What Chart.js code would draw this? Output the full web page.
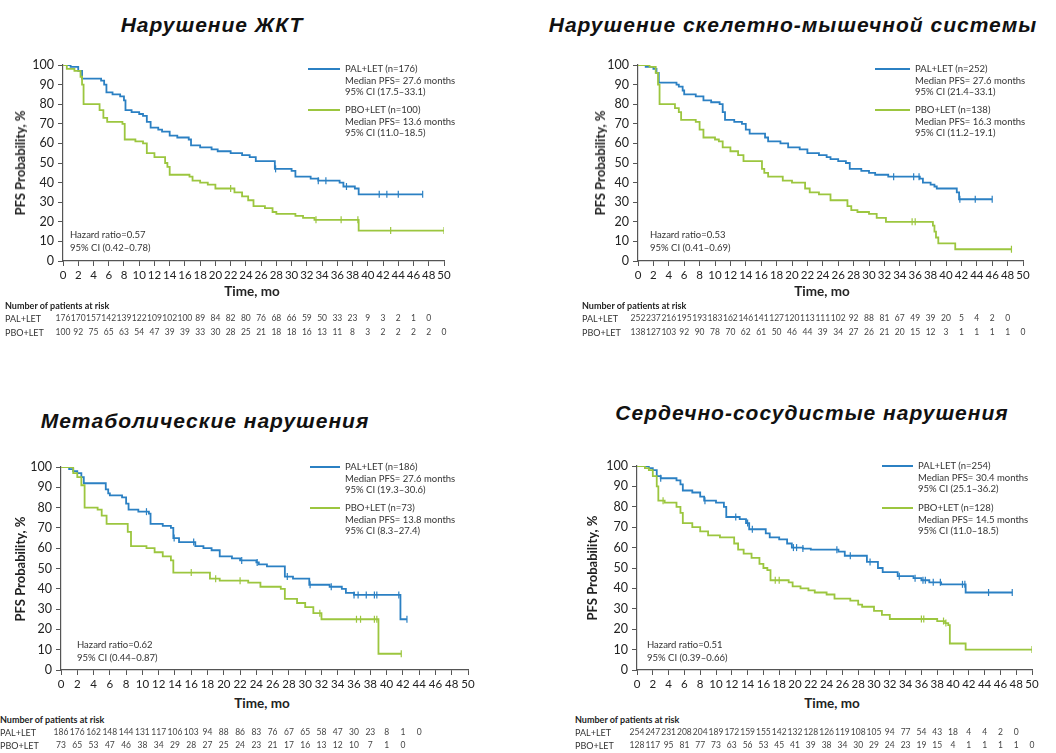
<!DOCTYPE html>
<html><head><meta charset="utf-8">
<script src="https://cdn.jsdelivr.net/npm/chart.js@4.4.1/dist/chart.umd.min.js"></script>
<style>
body{margin:0;width:1056px;height:753px;background:#fff;position:relative;overflow:hidden;font-family:Lato,'Noto Sans',sans-serif;color:#222}
.abs{position:absolute;white-space:nowrap}
.title{font-family:'Liberation Sans',Arial,sans-serif;font-weight:bold;font-style:italic;font-size:21px;letter-spacing:1px;color:#111;transform:translateX(-50%)}
.ytitle{font-weight:bold;font-size:13px;transform:translate(-50%,-50%) rotate(-90deg)}
.xtitle{font-weight:bold;font-size:13.5px;transform:translate(-50%,-50%)}
.leg{font-size:9.5px;line-height:11.5px;color:#333}
.hr{font-size:9.5px;line-height:13px;color:#333}
.rh{font-size:9px;font-weight:bold;color:#222;transform:translateY(-50%)}
.rl{font-size:9px;color:#333;transform:translateY(-50%)}
.rn{font-size:8.5px;color:#444;transform:translate(-50%,-50%)}
canvas{position:absolute}
</style></head><body>
<script>
// ---------------- DATA ----------------
const titles = ["Нарушение ЖКТ","Нарушение скелетно-мышечной системы","Метаболические нарушения","Сердечно-сосудистые нарушения"];
const seriesNames = ["PAL+LET","PBO+LET"];
const xTicks = [0,2,4,6,8,10,12,14,16,18,20,22,24,26,28,30,32,34,36,38,40,42,44,46,48,50];
const yTicks = [0,10,20,30,40,50,60,70,80,90,100];

// Panel 1: ЖКТ
const p1PalT = [0,1,2,2.5,5,5.4,5.7,6.5,7.5,8,8.2,9,10,10.5,11,11.5,12.5,13,14,15,16.5,16.8,18,19.5,20.3,22,23.5,24.5,25.3,27.8,30,30.5,32.5,33.5,36.3,36.8,38.3,38.8,47.2];
const p1PalS = [100,99,97,93,92,90,86,85,84,82,77,76,75,74,71,68,67,66,64,63,62,59,58,57,56,55,54,53,51,47,46,43,42,41,40,38,37,34,34];
const p1PboT = [0,0.5,1.5,2.3,2.5,2.7,4.8,5.3,5.8,7.8,8.1,9.5,10.5,11,12,13.4,13.7,14,16.6,17,18,19,20,22.5,23.5,24.3,25,26.5,27.5,28,30.5,31.5,33,38.8,50];
const p1PboS = [100,98,97,94,90,80,77,73,71,70,62,61,60,55,53,50,48,44,43,41,40,39,37,35,33,31,28,27,25,24,23,22,21,15.5,15.5];
const p1PalCens = [27.9,33.5,34.5,37.2,41.5,42.5,44,47.2];
const p1PboCens = [22,33.2,36.5,38.7,43,50];
const p1PalRisk = [176,170,157,142,139,122,109,102,100,89,84,82,80,76,68,66,59,50,33,23,9,3,2,1,0];
const p1PboRisk = [100,92,75,65,63,54,47,39,39,33,30,28,25,21,18,18,16,13,11,8,3,2,2,2,2,0];
const p1Legend = [["PAL+LET (n=176)","Median PFS= 27.6 months","95% CI (17.5–33.1)"],["PBO+LET (n=100)","Median PFS= 13.6 months","95% CI (11.0–18.5)"]];
const p1HR = ["Hazard ratio=0.57","95% CI (0.42–0.78)"];

// Panel 2: скелетно-мышечной
const p2PalT = [0,1,2,2.4,2.7,5,5.3,5.8,6,7.5,8.5,9.5,10.6,11,11.3,12.5,13.5,14,14.5,16.5,16.9,18.5,19.5,21,22,23.5,24.5,25,26,27,27.5,29,30,30.8,32.5,36.6,37,38,38.5,38.8,41.4,41.7,46];
const p2PalS = [100,99,98,96,91,90,89,87,85,84,82,81,80,76,72,71,70,67,65,63,61,60,58,57,55,54,53,52,51,50,47,46,45,44,43,42,40,39,38,37,35,31.5,31.5];
const p2PboT = [0,1.5,2.3,2.6,2.8,4.8,5.3,5.6,7.5,8,8.5,10,10.5,11,12,13,13.7,16.1,16.4,16.9,18.8,20,21.7,22.3,23.5,25,27.2,27.7,28.5,30,31,32.2,38.3,38.5,38.7,39,41.2,48.5];
const p2PboS = [100,99,96,90,80,78,76,72,71,67,63,62,61,58,56,54,51,47,45,43,41,40,37,35,34,31,28,26,25,24,22,20,18,15,12,9,6,6];
const p2PalCens = [33.2,35.8,36.5,41.8,43.8,46];
const p2PboCens = [35.6,36,48.5];
const p2PalRisk = [252,237,216,195,193,183,162,146,141,127,120,113,111,102,92,88,81,67,49,39,20,5,4,2,0];
const p2PboRisk = [138,127,103,92,90,78,70,62,61,50,46,44,39,34,27,26,21,20,15,12,3,1,1,1,1,0];
const p2Legend = [["PAL+LET (n=252)","Median PFS= 27.6 months","95% CI (21.4–33.1)"],["PBO+LET (n=138)","Median PFS= 16.3 months","95% CI (11.2–19.1)"]];
const p2HR = ["Hazard ratio=0.53","95% CI (0.41–0.69)"];

// Panel 3: метаболические
const p3PalT = [0,1,1.5,2,2.5,2.8,5.5,5.8,6,7.5,8,8.3,9.5,10.8,11,12.5,13.5,13.8,14.5,16.5,17.5,18.5,19.5,21,22,24,24.3,25.3,27.5,28.5,30.5,33,34.5,35,36,41.7,42.5];
const p3PalS = [100,99,98,97,95,92,89,87,86,85,82,79,78,77,72,71,70,65,63,61,60,59,56,55,54,53,52,51,46,45,42,41,40,38,37,25,25];
const p3PboT = [0,1.5,2,2.5,2.9,4.5,5,5.6,8.2,8.6,10.5,11.5,12.5,13.5,13.8,18.3,19.5,23,24.5,27,27.5,29,30,31,32,39,41.8];
const p3PboS = [100,97,95,91,80,79,76,72,68,61,60,58,56,54,48,45,44,43,41,40,35,33,31,28,25,8,8];
const p3PalCens = [10.5,13.9,16.3,22.2,24.1,27.8,30.6,33.2,36,36.5,37.5,38.5,38.8,41.5,42.5];
const p3PboCens = [16,19,22,31.8,36.3,36.8,38.5,38.8,41.8];
const p3PalRisk = [186,176,162,148,144,131,117,106,103,94,88,86,83,76,67,65,58,47,30,23,8,1,0];
const p3PboRisk = [73,65,53,47,46,38,34,29,28,27,25,24,23,21,17,16,13,12,10,7,1,0];
const p3Legend = [["PAL+LET (n=186)","Median PFS= 27.6 months","95% CI (19.3–30.6)"],["PBO+LET (n=73)","Median PFS= 13.8 months","95% CI (8.3–27.4)"]];
const p3HR = ["Hazard ratio=0.62","95% CI (0.44–0.87)"];

// Panel 4: сердечно-сосудистые
const p4PalT = [0,1.5,2,2.5,3,5,5.5,5.8,7,8,8.5,10,11,11.3,13,13.8,14.2,16.3,16.8,18,19,19.6,21,22,25.5,26.3,29.1,30.5,31.1,33,35,36,37,38.5,41.6,47.5];
const p4PalS = [100,99,98,95,94,93,91,88,87,85,83,82,80,75,74,72,69,67,65,64,62,60,59.5,59,58,56,53,50,48,46,45,44,43,42,38,38];
const p4PboT = [0,1,1.5,2,2.5,2.7,3.5,5,5.5,5.8,7,8,9,10.5,12.3,12.8,13.5,14.5,15.5,16,16.5,16.9,19.2,19.7,20.7,21.7,22.5,24,25,27,28,28.5,30,31,32,36.5,38,39,39.4,39.6,41.6,50];
const p4PboS = [100,99,98,95,90,83,82,80,77,72,70,68,66,65,62,59,57,55,52,50,49,44,43,41,40,39,38,37,35,34,32,31,29,27,25,25,24,23,22,13,10,10];
const p4PalCens = [3,8.6,12.5,14,14.6,19.8,20.2,21,25.3,27,29.5,33.2,35.2,36.2,36.5,37.5,38.4,41.2,41.5,44.5,47.5];
const p4PboCens = [3.3,17.5,18,36,36.3,38.8,39.1,50];
const p4PalRisk = [254,247,231,208,204,189,172,159,155,142,132,128,126,119,108,105,94,77,54,43,18,4,4,2,0];
const p4PboRisk = [128,117,95,81,77,73,63,56,53,45,41,39,38,34,30,29,24,23,19,15,4,1,1,1,1,0];
const p4Legend = [["PAL+LET (n=254)","Median PFS= 30.4 months","95% CI (25.1–36.2)"],["PBO+LET (n=128)","Median PFS= 14.5 months","95% CI (11.0–18.5)"]];
const p4HR = ["Hazard ratio=0.51","95% CI (0.39–0.66)"];

// ---------------- STYLE / LAYOUT ----------------
const BLUE = '#2b80c3';
const GREEN = '#9cc63f';
const AXIS = '#555';

const panels = [
  {title:titles[0], palT:p1PalT, palS:p1PalS, pboT:p1PboT, pboS:p1PboS, palC:p1PalCens, pboC:p1PboCens, palR:p1PalRisk, pboR:p1PboRisk, legend:p1Legend, hr:p1HR,
   L:{cl:0, ct:45, cw:520, ch:240, aL:63, aR:444, aT:65, aB:261, tX:212, tY:13, yX:20, xX:252, xY:291, lgL:308, lgT:345, lgY:[69,110], hrX:70, hrY:228, rX:5, rY:[305,318,332]}},
  {title:titles[1], palT:p2PalT, palS:p2PalS, pboT:p2PboT, pboS:p2PboS, palC:p2PalCens, pboC:p2PboCens, palR:p2PalRisk, pboR:p2PboRisk, legend:p2Legend, hr:p2HR,
   L:{cl:520, ct:45, cw:536, ch:240, aL:638, aR:1023, aT:65, aB:261, tX:793, tY:13, yX:600, xX:822, xY:291, lgL:875, lgT:915, lgY:[69,110], hrX:650, hrY:228, rX:582, rY:[305,318,332]}},
  {title:titles[2], palT:p3PalT, palS:p3PalS, pboT:p3PboT, pboS:p3PboS, palC:p3PalCens, pboC:p3PboCens, palR:p3PalRisk, pboR:p3PboRisk, legend:p3Legend, hr:p3HR,
   L:{cl:0, ct:445, cw:520, ch:250, aL:61, aR:468, aT:467, aB:670, tX:205, tY:409, yX:20, xX:262, xY:703, lgL:310, lgT:345, lgY:[467,508], hrX:77, hrY:638, rX:0, rY:[719,732,745]}},
  {title:titles[3], palT:p4PalT, palS:p4PalS, pboT:p4PboT, pboS:p4PboS, palC:p4PalCens, pboC:p4PboCens, palR:p4PalRisk, pboR:p4PboRisk, legend:p4Legend, hr:p4HR,
   L:{cl:520, ct:445, cw:536, ch:250, aL:637, aR:1032, aT:466, aB:670, tX:812, tY:401, yX:592, xX:832, xY:703, lgL:882, lgT:918, lgY:[466,508], hrX:647, hrY:638, rX:575, rY:[719,732,745]}}
];

function div(cls, x, y, text, extra){
  const d = document.createElement('div');
  d.className = 'abs ' + cls;
  d.style.left = x + 'px'; d.style.top = y + 'px';
  if (text !== undefined) d.textContent = text;
  if (extra) Object.assign(d.style, extra);
  document.body.appendChild(d);
  return d;
}
function stepAt(T, S, x){ let v = S[0]; for (let i=0;i<T.length;i++){ if (T[i] <= x) v = S[i]; } return v; }
function pts(T, S){ return T.map((t,i)=>({x:t, y:S[i]})); }
function cens(C, T, S){ return C.map(c=>({x:c, y:stepAt(T,S,c)})); }

panels.forEach(p => {
  const L = p.L;
  div('title', L.tX, L.tY, p.title);
  const cv = document.createElement('canvas');
  cv.width = L.cw; cv.height = L.ch;
  cv.style.left = L.cl + 'px'; cv.style.top = L.ct + 'px';
  cv.style.width = L.cw + 'px'; cv.style.height = L.ch + 'px';
  document.body.appendChild(cv);
  const yW = L.aL - L.cl;
  const xH = (L.ct + L.ch) - L.aB;
  const lineDs = (data, color) => ({type:'line', data, borderColor:color, borderWidth:1.8, stepped:'before', pointRadius:0, fill:false, tension:0});
  const censDs = (data, color) => ({type:'scatter', data, borderColor:color, backgroundColor:color, pointStyle:'line', rotation:90, pointRadius:3.5, borderWidth:1.2, showLine:false});
  const chart = new Chart(cv, {
    type:'line',
    data:{ datasets:[
      lineDs(pts(p.pboT,p.pboS), GREEN),
      censDs(cens(p.pboC,p.pboT,p.pboS), GREEN),
      lineDs(pts(p.palT,p.palS), BLUE),
      censDs(cens(p.palC,p.palT,p.palS), BLUE)
    ]},
    options:{
      responsive:false, animation:false, devicePixelRatio:1,
      layout:{padding:{left:0, top:L.aT-L.ct, right:(L.cl+L.cw)-L.aR, bottom:0}},
      plugins:{legend:{display:false}, tooltip:{enabled:false}},
      scales:{
        x:{type:'linear', min:0, max:50,
           afterBuildTicks: s => { s.ticks = xTicks.map(v=>({value:v})); },
           afterFit: s => { s.height = xH; },
           ticks:{autoSkip:false, maxRotation:0, color:'#222', font:{family:'Lato', size:11.5}, padding:2},
           grid:{drawOnChartArea:false, drawTicks:true, tickLength:5, color:AXIS, lineWidth:1},
           border:{display:true, color:AXIS, width:1.2}},
        y:{type:'linear', min:0, max:100,
           afterBuildTicks: s => { s.ticks = yTicks.map(v=>({value:v})); },
           afterFit: s => { s.width = yW; },
           ticks:{color:'#222', font:{family:'Lato', size:12.5}, padding:4},
           grid:{drawOnChartArea:false, drawTicks:true, tickLength:5, color:AXIS, lineWidth:1},
           border:{display:true, color:AXIS, width:1.2}}
      }
    }
  });
  div('ytitle', L.yX, (L.aT+L.aB)/2, 'PFS Probability, %');
  div('xtitle', L.xX, L.xY, 'Time, mo');
  [BLUE, GREEN].forEach((c, k) => {
    const y = L.lgY[k];
    div('', L.lgL, y-1, undefined, {width:(L.lgT-5-L.lgL)+'px', height:'2px', background:c});
    const d = div('leg', L.lgT, y-6);
    d.innerHTML = p.legend[k].join('<br>');
  });
  const h = div('hr', L.hrX, L.hrY);
  h.innerHTML = p.hr.join('<br>');
  div('rh', L.rX, L.rY[0], 'Number of patients at risk');
  [p.palR, p.pboR].forEach((arr, k) => {
    div('rl', L.rX, L.rY[k+1], seriesNames[k]);
    arr.forEach((v, i) => {
      const px = L.cl + chart.scales.x.getPixelForValue(xTicks[i]);
      div('rn', px, L.rY[k+1], String(v));
    });
  });
});
</script>
</body></html>
